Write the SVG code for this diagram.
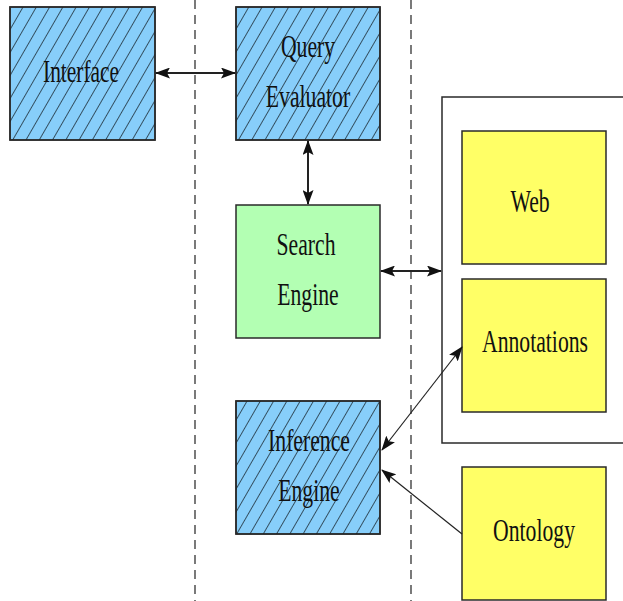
<svg xmlns="http://www.w3.org/2000/svg" width="623" height="601" viewBox="0 0 623 601">
  <style>
    .box { stroke: #2a2a2a; stroke-width: 1.5; }
    .blue { fill: #87cefa; }
    .green { fill: #b3ffb3; }
    .yellow { fill: #ffff66; }
    .hatch { fill: url(#hatch); stroke: none; }
    .lbl { font-family: "Liberation Serif", "Times New Roman", serif; font-size: 31px; fill: #111; text-anchor: middle; }
    .sep { stroke: #222; stroke-width: 1.2; stroke-dasharray: 9 6; fill: none; }
    .link { stroke: #222; fill: none; }
  </style>
  <defs>
    <pattern id="hatch" patternUnits="userSpaceOnUse" width="11.5" height="20" patternTransform="rotate(30)">
      <line x1="0" y1="0" x2="0" y2="20" stroke="#000" stroke-width="1.2"/>
    </pattern>
    <marker id="head" viewBox="0 0 15 11" refX="14" refY="5.5" markerWidth="15" markerHeight="11" markerUnits="userSpaceOnUse" orient="auto-start-reverse">
      <path d="M0,0 L15,5.5 L0,11 L3,5.5 Z" fill="#111"/>
    </marker>
  </defs>

  <!-- layer separators -->
  <g id="separators">
    <line class="sep" x1="195" y1="0" x2="195" y2="601"/>
    <line class="sep" x1="411" y1="0" x2="411" y2="601"/>
  </g>

  <g id="interface">
    <rect class="box blue" x="10" y="7" width="145" height="133"/>
    <rect class="hatch" x="10" y="7" width="145" height="133"/>
    <rect class="box" fill="none" x="10" y="7" width="145" height="133"/>
    <text class="lbl" transform="translate(81 82) scale(0.69 1)">Interface</text>
  </g>

  <g id="query-evaluator">
    <rect class="box blue" x="236" y="7" width="144" height="133"/>
    <rect class="hatch" x="236" y="7" width="144" height="133"/>
    <rect class="box" fill="none" x="236" y="7" width="144" height="133"/>
    <text class="lbl" transform="translate(308 57) scale(0.7 1)">Query</text>
    <text class="lbl" transform="translate(308 107) scale(0.7 1)">Evaluator</text>
  </g>

  <g id="search-engine">
    <rect class="box green" x="236" y="205" width="144" height="133"/>
    <text class="lbl" transform="translate(306 255) scale(0.7 1)">Search</text>
    <text class="lbl" transform="translate(308 305) scale(0.7 1)">Engine</text>
  </g>

  <g id="inference-engine">
    <rect class="box blue" x="236" y="401" width="144" height="133"/>
    <rect class="hatch" x="236" y="401" width="144" height="133"/>
    <rect class="box" fill="none" x="236" y="401" width="144" height="133"/>
    <text class="lbl" transform="translate(309 451) scale(0.7 1)">Inference</text>
    <text class="lbl" transform="translate(309 501) scale(0.7 1)">Engine</text>
  </g>

  <g id="sources">
    <rect fill="#ffffff" stroke="#2a2a2a" stroke-width="1.5" x="442" y="97" width="190" height="346"/>
  </g>

  <g id="web">
    <rect class="box yellow" x="462" y="131" width="144" height="133"/>
    <text class="lbl" transform="translate(530 212) scale(0.7 1)">Web</text>
  </g>

  <g id="annotations">
    <rect class="box yellow" x="462" y="279" width="144" height="133"/>
    <text class="lbl" transform="translate(535 352) scale(0.7 1)">Annotations</text>
  </g>

  <g id="ontology">
    <rect class="box yellow" x="462" y="467" width="144" height="133"/>
    <text class="lbl" transform="translate(534 541) scale(0.7 1)">Ontology</text>
  </g>

  <g id="connectors">
    <line class="link" stroke-width="2" x1="156" y1="73" x2="235" y2="73" marker-start="url(#head)" marker-end="url(#head)"/>
    <line class="link" stroke-width="2" x1="308" y1="141" x2="308" y2="204" marker-start="url(#head)" marker-end="url(#head)"/>
    <line class="link" stroke-width="2" x1="381" y1="271" x2="441" y2="271" marker-start="url(#head)" marker-end="url(#head)"/>
    <line class="link" stroke-width="1.2" x1="462" y1="347" x2="382" y2="450" marker-start="url(#head)" marker-end="url(#head)"/>
    <line class="link" stroke-width="1.2" x1="462" y1="534" x2="382" y2="470" marker-end="url(#head)"/>
  </g>
</svg>
